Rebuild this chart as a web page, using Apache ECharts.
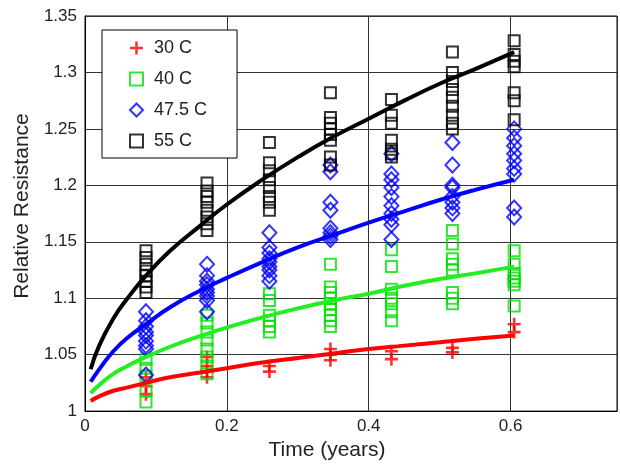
<!DOCTYPE html>
<html>
<head>
<meta charset="utf-8">
<script src="https://cdn.jsdelivr.net/npm/echarts@6/dist/echarts.min.js"></script>
<style>html,body{margin:0;padding:0;background:#fff}</style>
</head>
<body>
<div id="MyChart" style="width:620px;height:466px"></div>
<script>
// measurement times (years), one per column of markers
var times = [0.086, 0.172, 0.26, 0.346, 0.432, 0.518, 0.605]

// measured relative resistance, one list per column
var pts30 = [[1.03, 1.022, 1.015], [1.048, 1.04, 1.035, 1.03], [1.04, 1.035], [1.055, 1.05, 1.045],
  [1.053, 1.046], [1.056, 1.052], [1.077, 1.07]]
var pts40 = [[1.046, 1.038, 1.031, 1.018, 1.008], [1.085, 1.078, 1.07, 1.063, 1.055, 1.048, 1.04, 1.033],
  [1.104, 1.098, 1.085, 1.08, 1.075, 1.07], [1.13, 1.11, 1.105, 1.1, 1.095, 1.09, 1.085, 1.08, 1.075],
  [1.143, 1.128, 1.108, 1.1, 1.095, 1.088, 1.08], [1.16, 1.148, 1.135, 1.13, 1.125, 1.105, 1.1, 1.095],
  [1.142, 1.13, 1.122, 1.118, 1.115, 1.112, 1.093]]
var pts475 = [[1.088, 1.08, 1.075, 1.07, 1.067, 1.062, 1.058, 1.055, 1.032],
  [1.13, 1.12, 1.115, 1.112, 1.108, 1.105, 1.102, 1.098, 1.088],
  [1.158, 1.145, 1.14, 1.135, 1.132, 1.128, 1.125, 1.12, 1.115],
  [1.218, 1.212, 1.185, 1.178, 1.162, 1.158, 1.155, 1.152],
  [1.228, 1.21, 1.205, 1.198, 1.19, 1.182, 1.175, 1.17, 1.165, 1.152],
  [1.238, 1.218, 1.2, 1.198, 1.19, 1.185, 1.18, 1.175],
  [1.25, 1.242, 1.235, 1.228, 1.222, 1.215, 1.21, 1.18, 1.172]]
var pts55 = [[1.142, 1.136, 1.13, 1.124, 1.12, 1.115, 1.11, 1.105],
  [1.202, 1.195, 1.19, 1.185, 1.178, 1.172, 1.166, 1.16],
  [1.238, 1.22, 1.213, 1.205, 1.198, 1.19, 1.185, 1.178],
  [1.282, 1.26, 1.255, 1.25, 1.245, 1.24, 1.225, 1.218],
  [1.276, 1.262, 1.255, 1.24, 1.232, 1.228, 1.225],
  [1.318, 1.3, 1.292, 1.285, 1.278, 1.27, 1.262, 1.255, 1.25],
  [1.328, 1.316, 1.31, 1.305, 1.282, 1.275, 1.258]]

// fitted curves
var curveT = [0.008, 0.02, 0.04, 0.06, 0.086, 0.12, 0.16, 0.2, 0.25, 0.3, 0.35, 0.4, 0.45, 0.5, 0.55, 0.605]
var fit30 = [1.009, 1.013, 1.018, 1.021, 1.025, 1.03, 1.034, 1.038, 1.043, 1.047, 1.051, 1.055, 1.058, 1.061, 1.064, 1.067]
var fit40 = [1.016, 1.023, 1.033, 1.04, 1.048, 1.057, 1.066, 1.074, 1.083, 1.091, 1.098, 1.104, 1.111, 1.117, 1.122, 1.128]
var fit475 = [1.026, 1.037, 1.053, 1.065, 1.077, 1.092, 1.106, 1.118, 1.132, 1.145, 1.156, 1.167, 1.177, 1.187, 1.196, 1.205]
var fit55 = [1.037, 1.058, 1.082, 1.1, 1.12, 1.142, 1.163, 1.183, 1.205, 1.225, 1.243, 1.259, 1.275, 1.29, 1.303, 1.318]

var names = ['30 C', '40 C', '47.5 C', '55 C']
var colors = ['#ff0000', '#00e000', '#0000ff', '#000000']
var lineColors = ['#ff0000', '#22ee22', '#0000ff', '#000000']

var crossPath = 'path://M4,0 H6 V4 H10 V6 H6 V10 H4 V6 H0 V4 H4 Z'

function toPoints (cols) {
  var out = []
  for (var i = 0; i < cols.length; i++) {
    for (var j = 0; j < cols[i].length; j++) {
      out.push([times[i], cols[i][j]])
    }
  }
  return out
}
function toLine (vals) {
  var out = []
  for (var i = 0; i < vals.length; i++) out.push([curveT[i], vals[i]])
  return out
}

var myChart = echarts.init(document.getElementById('MyChart'))
var font = 'Liberation Sans, Arial, sans-serif'

var scatterStyle = [
  { symbol: crossPath, symbolSize: 13, itemStyle: { color: colors[0] } },
  { symbol: 'rect', symbolSize: 11, itemStyle: { color: 'transparent', borderColor: colors[1], borderWidth: 2 } },
  { symbol: 'diamond', symbolSize: [14, 15], itemStyle: { color: 'transparent', borderColor: colors[2], borderWidth: 2 } },
  { symbol: 'rect', symbolSize: 11, itemStyle: { color: 'transparent', borderColor: colors[3], borderWidth: 2 } }
]
var allPts = [pts30, pts40, pts475, pts55]
var allFits = [fit30, fit40, fit475, fit55]

var series = []
for (var k = 0; k < 4; k++) {
  series.push({
    name: names[k],
    type: 'scatter',
    symbol: scatterStyle[k].symbol,
    symbolSize: scatterStyle[k].symbolSize,
    itemStyle: scatterStyle[k].itemStyle,
    data: toPoints(allPts[k]),
    silent: true
  })
}
for (var m = 0; m < 4; m++) {
  series.push({
    name: 'fit ' + names[m],
    type: 'line',
    smooth: true,
    showSymbol: false,
    lineStyle: { color: lineColors[m], width: 4 },
    data: toLine(allFits[m]),
    silent: true,
    z: 3
  })
}

var legendData = []
for (var n = 0; n < 4; n++) {
  legendData.push({
    name: names[n],
    icon: n === 0 ? crossPath : (n === 2 ? 'diamond' : 'rect'),
    itemStyle: n === 0 ? { color: colors[0], borderWidth: 0 }
      : { color: 'transparent', borderColor: colors[n], borderWidth: 2 }
  })
}

var option = {
  animation: false,
  grid: {
    left: 85, right: 3, top: 16, bottom: 53,
    show: true, borderColor: '#000', borderWidth: 1
  },
  legend: {
    data: legendData,
    orient: 'vertical',
    left: 102,
    top: 30,
    width: 136,
    padding: [9, 30, 8, 27],
    itemWidth: 13,
    itemHeight: 13,
    itemGap: 13,
    backgroundColor: '#fff',
    borderColor: '#000',
    borderWidth: 1,
    textStyle: { fontFamily: font, fontSize: 18, color: '#222', lineHeight: 18, padding: [0, 0, 0, 6] },
    selectedMode: false
  },
  xAxis: {
    type: 'value',
    min: 0,
    max: 0.75,
    interval: 0.2,
    name: 'Time (years)',
    nameLocation: 'middle',
    nameGap: 27,
    nameTextStyle: { fontFamily: font, fontSize: 21, color: '#222', padding: [0, 48, 0, 0] },
    axisLine: { show: true, lineStyle: { color: '#000', width: 1 } },
    axisTick: { show: false },
    axisLabel: {
      fontFamily: font, fontSize: 17, color: '#222', margin: 7,
      formatter: function (v) { return v > 0.7 ? '' : String(v) }
    },
    splitLine: { show: true, lineStyle: { color: '#333', width: 1 } }
  },
  yAxis: {
    type: 'value',
    min: 1,
    max: 1.35,
    interval: 0.05,
    name: 'Relative Resistance',
    nameLocation: 'middle',
    nameGap: 49,
    nameTextStyle: { fontFamily: font, fontSize: 21, color: '#222', padding: [0, 0, 0, 15] },
    axisLine: { show: true, lineStyle: { color: '#000', width: 1 } },
    axisTick: { show: false },
    axisLabel: { fontFamily: font, fontSize: 17, color: '#222', margin: 8 },
    splitLine: { show: true, lineStyle: { color: '#333', width: 1 } }
  },
  series: series
}
myChart.setOption(option)
</script>
</body>
</html>
